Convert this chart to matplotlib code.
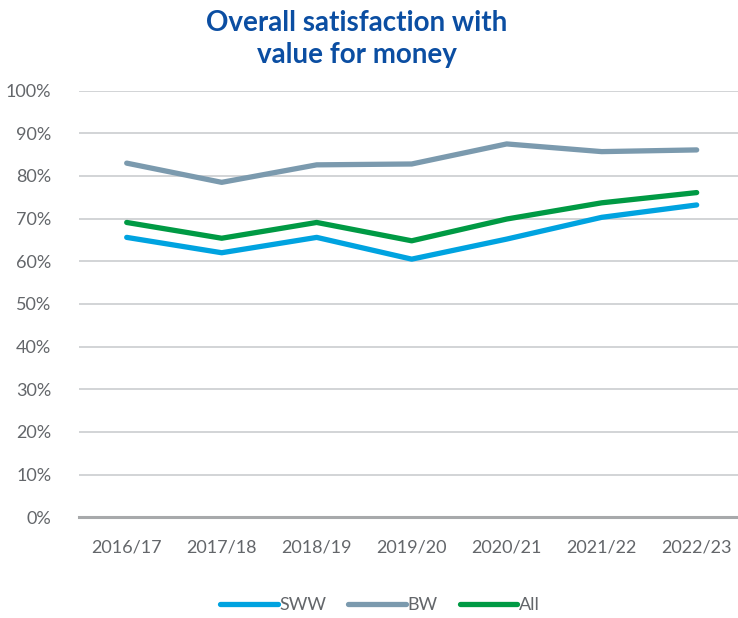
import matplotlib
matplotlib.use("Agg")
import matplotlib.pyplot as plt
from matplotlib.ticker import PercentFormatter

# survey years and satisfaction shares (fraction of respondents)
years = ["2016/17", "2017/18", "2018/19", "2019/20", "2020/21", "2021/22", "2022/23"]
sww = [0.656, 0.620, 0.656, 0.605, 0.652, 0.703, 0.732]
bw = [0.830, 0.785, 0.826, 0.828, 0.875, 0.857, 0.861]
all_cust = [0.691, 0.654, 0.691, 0.648, 0.699, 0.737, 0.761]

plt.rcParams['font.family'] = ['Lato', 'DejaVu Sans']
grey_txt = '#63666a'

fig = plt.figure(figsize=(7.38, 6.18), dpi=100)
ax = fig.add_axes([79.2 / 738, 1 - 517.3 / 618, (738 - 79.2) / 738, 426.7 / 618])

x = range(len(years))
ax.plot(x, sww, color='#00a3e0', lw=3.8, solid_capstyle='round', label='SWW', zorder=3)
ax.plot(x, bw, color='#7b9aae', lw=3.8, solid_capstyle='round', label='BW', zorder=3)
ax.plot(x, all_cust, color='#009a44', lw=3.8, solid_capstyle='round', label='All', zorder=3)

ax.set_ylim(0, 1)
ax.set_xlim(-0.5, 6.435)
ax.set_yticks([i / 10 for i in range(11)])
ax.yaxis.set_major_formatter(PercentFormatter(1.0, decimals=0))
ax.set_xticks(list(x))
ax.set_xticklabels(years)

ax.grid(axis='y', color='#cfd1d3', lw=1.3)
ax.set_axisbelow(True)
for side in ['top', 'right', 'left']:
    ax.spines[side].set_visible(False)
ax.spines['bottom'].set_color('#a7a9ab')
ax.spines['bottom'].set_linewidth(2.2)

ax.tick_params(axis='both', length=0, labelsize=13, labelcolor=grey_txt)
ax.tick_params(axis='y', pad=20)
ax.tick_params(axis='x', pad=16)

fig.text(357 / 738, 1 - 39 / 618, 'Overall satisfaction with\nvalue for money',
         ha='center', va='center', fontsize=20, fontweight='bold',
         color='#0b4ea2', linespacing=1.25)

leg = fig.legend(loc='center', bbox_to_anchor=(380 / 738, 1 - 605 / 618), ncol=3,
                 frameon=False, fontsize=13, handlelength=3.2, handletextpad=0.1,
                 columnspacing=1.2)
for t in leg.get_texts():
    t.set_color(grey_txt)

fig.savefig('out.png', dpi=100)
